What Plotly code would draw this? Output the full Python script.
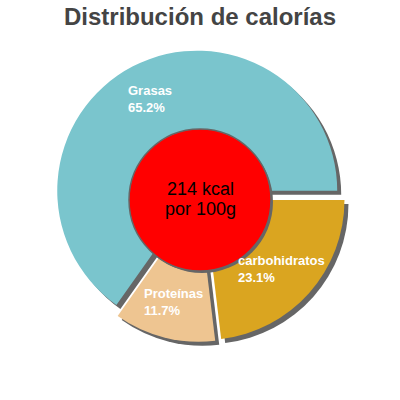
import math
import plotly.graph_objects as go

# calorie split (clockwise from 3 o'clock)
labels = ["carbohidratos", "Proteínas", "Grasas"]
percents = [23.1, 11.7, 65.2]
colors = ["#DAA520", "#EEC591", "#7AC5CD"]
center_text = ["214 kcal", "por 100g"]
title = "Distribución de calorías"

pull = 0.043
shadow = 0.01
cx, cy = 0.5, 0.51
half = 0.365

fig = go.Figure()

# gray copy shifted down-right acts as drop shadow
fig.add_trace(go.Pie(
    labels=labels, values=percents, sort=False, direction="clockwise", rotation=90,
    pull=[pull] * len(labels), textinfo="none", hoverinfo="skip", showlegend=False,
    marker=dict(colors=["#666666"] * len(labels), line=dict(width=0)),
    domain=dict(x=[cx - half + shadow, cx + half + shadow], y=[cy - half - shadow, cy + half - shadow]),
))
fig.add_trace(go.Pie(
    labels=labels, values=percents, sort=False, direction="clockwise", rotation=90,
    pull=[pull] * len(labels), textinfo="none", showlegend=False,
    marker=dict(colors=colors, line=dict(width=0)),
    domain=dict(x=[cx - half, cx + half], y=[cy - half, cy + half]),
))
# red disc in the middle (with its own small shadow)
fig.add_trace(go.Pie(
    values=[1], textinfo="none", hoverinfo="skip", showlegend=False,
    marker=dict(colors=["#666666"], line=dict(width=0)),
    domain=dict(x=[0.3275, 0.6825], y=[0.3175, 0.6725]),
))
fig.add_trace(go.Pie(
    values=[1], textinfo="none", hoverinfo="skip", showlegend=False,
    marker=dict(colors=["#FF0000"], line=dict(color="#666666", width=1.5)),
    domain=dict(x=[0.3225, 0.6775], y=[0.3225, 0.6775]),
))

# slice labels along each bisector
r = half / (1 + pull)
lab_r = 0.74 * r
annotations = []
cum = 0
total = sum(percents)
for lab, p in zip(labels, percents):
    mid = math.radians(90 + 360 * (cum + p / 2) / total)
    cum += p
    dx, dy = math.sin(mid), math.cos(mid)
    annotations.append(dict(
        x=cx + (pull * r + lab_r) * dx, y=cy + (pull * r + lab_r) * dy,
        xref="paper", yref="paper", xanchor="center", yanchor="middle",
        showarrow=False, align="left",
        text=f"<b>{lab}<br>{p:.1f}%</b>",
        font=dict(family="Liberation Sans, Arial", size=13, color="white"),
    ))
for line, ly in zip(center_text, [0.5275, 0.4775]):
    annotations.append(dict(
        x=0.5, y=ly, xref="paper", yref="paper", xanchor="center", yanchor="middle",
        showarrow=False, text=line,
        font=dict(family="Liberation Sans, Arial", size=18, color="black"),
    ))

fig.update_layout(
    width=400, height=400, margin=dict(l=0, r=0, t=0, b=0),
    paper_bgcolor="white", plot_bgcolor="white",
    title=dict(text=f"<b>{title}</b>", x=0.5, xanchor="center", y=0.9575, yanchor="middle",
               font=dict(family="Liberation Sans, Arial", size=24, color="#444444")),
    annotations=annotations,
)
fig.write_html("out.html", config={"displayModeBar": False},
               post_script="document.body.style.margin='0';")
